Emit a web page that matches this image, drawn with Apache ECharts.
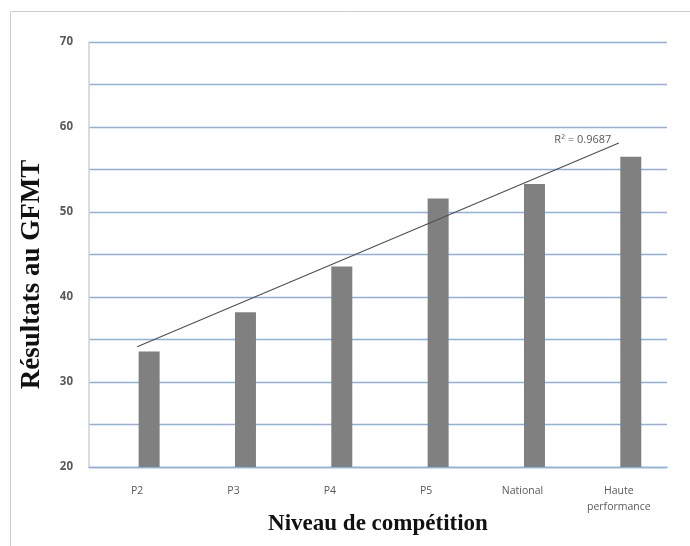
<!DOCTYPE html>
<html>
<head>
<meta charset="utf-8">
<script src="https://cdn.jsdelivr.net/npm/echarts@6/dist/echarts.min.js"></script>
<style>html,body{margin:0;padding:0;background:#fff}#c{width:690px;height:546px}</style>
</head>
<body>
<div id="c"></div>
<script>
const categories = ['P2', 'P3', 'P4', 'P5', 'National', 'Haute\nperformance'];
const scores = [33.6, 38.2, 43.6, 51.6, 53.3, 56.5];
const rSquaredLabel = 'R² = 0.9687';
const yTickLabels = [20, 30, 40, 50, 60, 70];

// linear least-squares trendline over category index (as in a spreadsheet trendline)
const n = scores.length;
const xs = scores.map((_, i) => i + 1);
const mx = xs.reduce((a, b) => a + b, 0) / n;
const my = scores.reduce((a, b) => a + b, 0) / n;
let sxy = 0, sxx = 0;
for (let i = 0; i < n; i++) { sxy += (xs[i] - mx) * (scores[i] - my); sxx += (xs[i] - mx) ** 2; }
const slope = sxy / sxx, icpt = my - slope * mx;
const trend = xs.map(x => +(icpt + slope * x).toFixed(3));

const chart = echarts.init(document.getElementById('c'));
chart.setOption({
  animation: false,
  backgroundColor: '#fff',
  grid: { left: 89, right: 23, top: 42, bottom: 79, outerBoundsMode: 'none', containLabel: false },
  graphic: [{
    type: 'rect', left: 8, top: 9, z: -10, silent: true,
    shape: { width: 720, height: 600 },
    style: { fill: 'none', stroke: '#cccccc', lineWidth: 1 }
  }],
  xAxis: {
    type: 'category',
    data: categories,
    axisLine: { show: true, lineStyle: { color: '#8fb1d9', width: 1.3 } },
    axisTick: { show: false },
    axisLabel: { color: '#595959', fontSize: 10.5, fontFamily: 'Open Sans', margin: 16, lineHeight: 16, interval: 0 },
    name: 'Niveau de compétition',
    nameLocation: 'middle',
    nameGap: 46,
    nameMoveOverlap: false,
    nameTextStyle: { fontFamily: 'Liberation Serif', fontWeight: 'bold', fontSize: 23, color: '#111' }
  },
  yAxis: {
    type: 'value',
    min: 20, max: 70, interval: 5,
    axisLine: { show: true, lineStyle: { color: '#d0d0d0', width: 1.5 } },
    axisTick: { show: false },
    splitLine: { lineStyle: { color: '#8fb1d9', width: 1.3 } },
    axisLabel: {
      color: '#595959', fontSize: 11.5, fontWeight: 'bold', fontFamily: 'Open Sans', margin: 16,
      formatter: v => (yTickLabels.indexOf(v) >= 0 ? String(v) : '')
    },
    name: 'Résultats au GFMT',
    nameLocation: 'middle',
    nameGap: 43,
    nameMoveOverlap: false,
    nameTextStyle: { fontFamily: 'Liberation Serif', fontWeight: 'bold', fontSize: 27, color: '#111', padding: [0, 40, 0, 0] }
  },
  series: [
    { type: 'bar', name: 'spacer', data: categories.map(() => null), barWidth: 21, barGap: '14%', silent: true, itemStyle: { color: 'transparent' } },
    { type: 'bar', name: 'GFMT', data: scores, barWidth: 21, barGap: '14%', itemStyle: { color: '#808080' } },
    {
      type: 'line', name: 'Tendance', data: trend.map((v, i) => i === n - 1 ? {
        value: v,
        label: { show: true, position: 'top', offset: [-36, 7], formatter: rSquaredLabel, color: '#595959', fontSize: 11, fontFamily: 'Open Sans' }
      } : v),
      symbol: 'circle', symbolSize: 0.01, showSymbol: true,
      itemStyle: { color: '#505050' },
      lineStyle: { color: '#505050', width: 1.2 }, z: 5
    }
  ]
});
</script>
</body>
</html>
